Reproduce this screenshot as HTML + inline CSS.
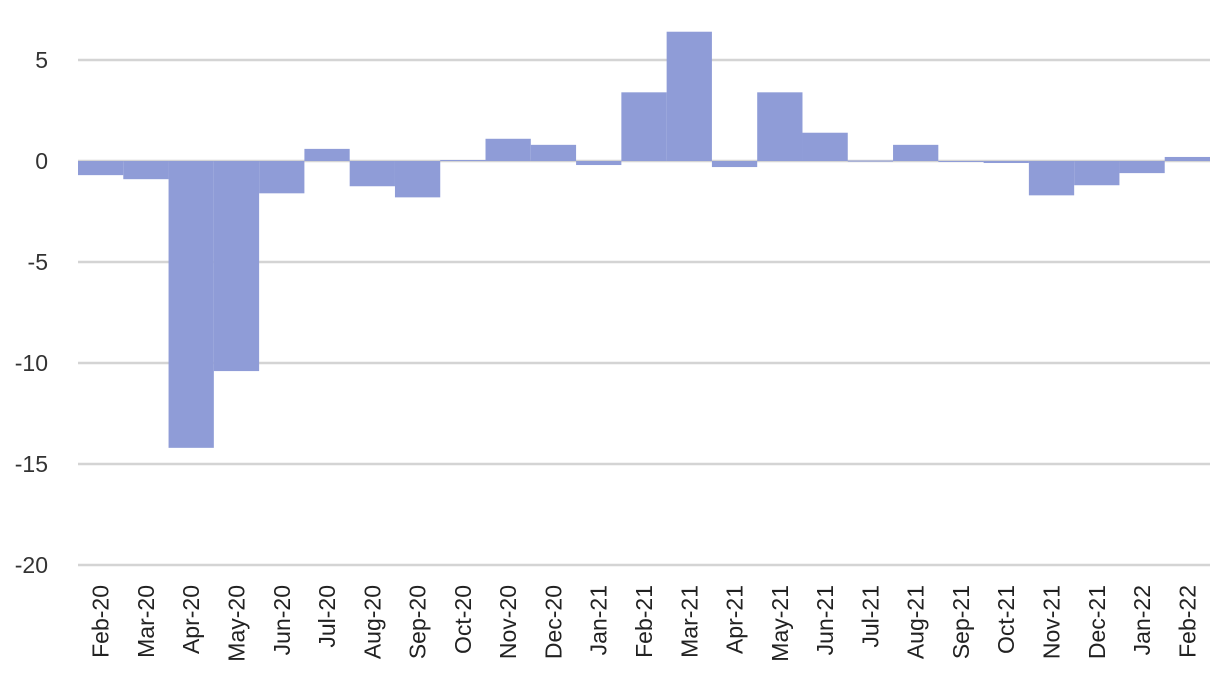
<!DOCTYPE html>
<html><head><meta charset="utf-8">
<style>
html,body{margin:0;padding:0;background:#fff;}
svg{display:block;font-family:"Liberation Sans",sans-serif;}
</style></head>
<body>
<svg id="chart" width="1226" height="690"></svg>
<script>
const categories=["Feb-20","Mar-20","Apr-20","May-20","Jun-20","Jul-20","Aug-20","Sep-20","Oct-20","Nov-20","Dec-20","Jan-21","Feb-21","Mar-21","Apr-21","May-21","Jun-21","Jul-21","Aug-21","Sep-21","Oct-21","Nov-21","Dec-21","Jan-22","Feb-22"];
const values=[-0.7,-0.9,-14.2,-10.4,-1.6,0.6,-1.25,-1.8,0.05,1.1,0.8,-0.2,3.4,6.4,-0.3,3.4,1.4,0.02,0.8,-0.05,-0.1,-1.7,-1.2,-0.6,0.2];
const yTicks=[5,0,-5,-10,-15,-20];
const yTickLabels=["5","0","-5","-10","-15","-20"];

const NS="http://www.w3.org/2000/svg";
const svg=document.getElementById("chart");
const left=78,right=1210,y0=161,pxPerUnit=20.2;
function y(v){return y0-v*pxPerUnit;}
const bw=(right-left)/categories.length;
function x(i){return left+i*bw;}

yTicks.forEach((t,i)=>{
  const ln=document.createElementNS(NS,"line");
  ln.setAttribute("x1",left);ln.setAttribute("x2",right);
  ln.setAttribute("y1",y(t));ln.setAttribute("y2",y(t));
  ln.setAttribute("stroke","#d4d4d4");ln.setAttribute("stroke-width","2.5");
  
  
  svg.appendChild(ln);
  const tx=document.createElementNS(NS,"text");
  tx.setAttribute("x",48);tx.setAttribute("y",y(t)+8);
  tx.setAttribute("text-anchor","end");tx.setAttribute("font-size","23");tx.setAttribute("fill","#333");
  tx.textContent=yTickLabels[i];
  
  
  svg.appendChild(tx);
});

values.forEach((v,i)=>{
  const r=document.createElementNS(NS,"rect");
  const top=Math.min(y(v),y(0)),h=Math.max(Math.abs(y(v)-y(0)),1);
  r.setAttribute("x",x(i));r.setAttribute("y",top);
  r.setAttribute("width",bw);r.setAttribute("height",h);
  r.setAttribute("fill","#8f9cd7");
  
  
  svg.appendChild(r);
});

categories.forEach((c,i)=>{
  const cx=x(i)+bw/2+8;
  const tx=document.createElementNS(NS,"text");
  tx.setAttribute("transform","translate("+cx+",585) rotate(-90)");
  tx.setAttribute("text-anchor","end");tx.setAttribute("font-size","23");tx.setAttribute("fill","#222");
  tx.textContent=c;
  
  
  svg.appendChild(tx);
});
</script>
</body></html>
